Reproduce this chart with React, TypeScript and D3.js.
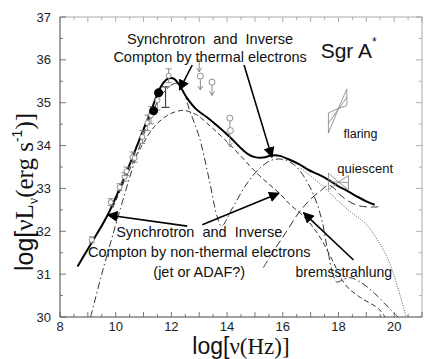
import React from 'react';
import * as d3 from 'd3';

// total model (solid)
const totalCurve: [number, number][] = [
  [8.63, 31.18], [9.2, 31.8], [9.71, 32.38], [10.32, 33.27], [10.8, 34.05], [11.32, 34.9],
  [11.6, 35.35], [11.85, 35.55], [12.05, 35.57], [12.25, 35.45], [12.55, 35.12], [12.89, 34.85],
  [13.3, 34.65], [13.71, 34.43], [14.1, 34.2], [14.45, 33.97], [14.75, 33.8], [15.0, 33.73],
  [15.3, 33.72], [15.6, 33.77], [15.9, 33.76], [16.21, 33.68], [16.6, 33.56], [16.93, 33.43],
  [17.3, 33.32], [17.64, 33.2], [18.0, 33.05], [18.3, 32.95], [18.7, 32.8], [19.0, 32.7], [19.3, 32.62],
];

// non-thermal electrons (dashed)
const nonThermalCurve: [number, number][] = [
  [9.9, 32.55], [10.4, 33.3], [10.9, 33.95], [11.4, 34.45], [11.9, 34.72], [12.4, 34.82],
  [12.9, 34.72], [13.4, 34.45], [13.9, 34.15], [14.5, 33.75], [15.0, 33.4], [15.5, 33.1],
  [15.86, 32.9], [16.3, 32.6], [16.75, 32.35], [17.3, 31.9], [17.8, 31.3], [18.25, 30.75],
  [18.8, 30.45], [19.43, 30.2], [19.68, 30.0],
];

// thermal electrons (dash-dot)
const thermalCurve: [number, number][] = [
  [9.1, 30.0], [9.5, 31.0], [10.0, 32.15], [10.5, 33.25], [11.0, 34.25], [11.4, 34.9],
  [11.8, 35.3], [12.15, 35.45], [12.4, 35.3], [12.64, 34.85], [13.0, 34.2], [13.36, 33.2],
  [13.64, 32.35], [13.8, 32.12], [14.2, 32.55], [14.7, 33.1], [15.14, 33.45], [15.6, 33.66],
  [16.0, 33.68], [16.3, 33.6], [16.57, 33.45], [17.04, 32.95], [17.39, 32.3], [17.6, 31.6],
  [17.93, 30.82], [18.15, 30.87], [18.4, 30.92], [18.82, 30.8], [19.3, 30.55], [19.79, 30.23], [20.14, 30.0],
];

// bremsstrahlung (long dash)
const bremsCurve: [number, number][] = [
  [15.3, 31.15], [15.7, 31.57], [16.1, 31.96], [16.57, 32.43], [17.0, 32.75], [17.39, 32.96],
  [17.64, 33.08], [17.85, 33.0], [18.11, 32.82], [18.61, 32.62], [19.0, 32.57], [19.43, 32.57],
];

// dotted component
const dottedCurve: [number, number][] = [
  [16.6, 33.5], [17.04, 33.27], [17.5, 33.02], [18.0, 32.7], [18.5, 32.42], [18.96, 32.19],
  [19.4, 31.8], [19.79, 31.33], [20.1, 30.75], [20.43, 30.0],
];

// observations: [logNu, logL, err]
const obsPoints: [number, number, number][] = [
  [9.14, 31.8, 0.07], [9.82, 32.68, 0.08], [10.14, 33.03, 0.08], [10.32, 33.27, 0.1],
  [10.39, 33.4, 0.1], [10.6, 33.73, 0.12], [10.68, 33.71, 0.1], [10.96, 34.2, 0.15],
  [11.14, 34.53, 0.18], [11.27, 34.71, 0.2], [11.5, 35.06, 0.23], [11.9, 35.63, 0.16],
];
const thickBars: [number, number, number][] = [[11.79, 35.13, 0.24]];
const filledPoints: [number, number][] = [[11.36, 34.81], [11.54, 35.23]];
// upper limits: [logNu, logL, arrow end, circle?]
const upperLimits: [number, number, number, boolean][] = [
  [13.0, 36.0, 35.72, false], [13.04, 35.62, 35.3, true], [13.46, 35.48, 35.17, true],
  [14.1, 34.64, 33.97, true],
];
const extraCircles: [number, number][] = [[14.12, 34.35]];

// bowties: pivot, left x, left ys, right x, right ys
const flaring = { p: [18.0, 34.87], lx: 17.64, ly: [34.76, 34.29], rx: 18.3, ry: [34.93, 35.32] };
const quiescent = { p: [18.0, 33.15], lx: 17.64, ly: [33.36, 32.96], rx: 18.36, ry: [32.97, 33.3] };

// arrows: from -> tip (data units)
const arrows: [number, number, number, number][] = [
  [12.75, 35.88, 12.29, 35.3],
  [14.61, 35.88, 15.61, 33.73],
  [12.57, 32.12, 9.71, 32.38],
  [13.11, 32.15, 15.86, 32.89],
  [18.54, 31.33, 16.75, 32.43],
];

const xMajor = [8, 10, 12, 14, 16, 18, 20];
const yMajor = [30, 31, 32, 33, 34, 35, 36, 37];

const W = 436;
const H = 359;

export default function App() {
  const x = d3.scaleLinear().domain([8, 21]).range([60, 422]);
  const y = d3.scaleLinear().domain([30, 37]).range([317, 17]);
  const line = d3.line<[number, number]>().x(d => x(d[0])).y(d => y(d[1])).curve(d3.curveCatmullRom.alpha(0.5));

  const xMinor = d3.range(8, 21.01, 0.5);
  const yMinor = d3.range(30, 37.01, 0.5);
  const sans = 'Arial, "Liberation Sans", sans-serif';
  const serif = '"Times New Roman", "Liberation Serif", serif';
  const gray = '#808080';

  const bowtie = (b: typeof flaring, key: string) => {
    const [px, py] = b.p;
    const pts = [
      [[b.lx, b.ly[0]], [b.lx, b.ly[1]], [px, py]],
      [[b.rx, b.ry[0]], [b.rx, b.ry[1]], [px, py]],
    ];
    return (
      <g key={key} fill="none" stroke={gray} strokeWidth={0.8}>
        {pts.map((tri, i) => (
          <polygon key={i} points={tri.map(p => `${x(p[0])},${y(p[1])}`).join(' ')} />
        ))}
        <line x1={x(b.lx)} y1={y((b.ly[0] + b.ly[1]) / 2)} x2={x(b.rx)} y2={y((b.ry[0] + b.ry[1]) / 2)} />
      </g>
    );
  };

  return (
    <svg width={W} height={H} style={{ position: 'absolute', left: 0, top: 0, background: '#fff' }}>
      <defs>
        <clipPath id="plot">
          <rect x={60} y={17} width={362} height={300} />
        </clipPath>
        <marker id="head" viewBox="0 0 10 10" refX={9} refY={5} markerWidth={11} markerHeight={11}
          markerUnits="userSpaceOnUse" orient="auto">
          <path d="M0,0 L10,5 L0,10 z" fill="#000" />
        </marker>
      </defs>

      {/* frame */}
      <line x1={60} y1={17} x2={422} y2={17} stroke="#aaa" />
      <line x1={422} y1={17} x2={422} y2={317} stroke="#aaa" />
      <line x1={60} y1={17} x2={60} y2={317} stroke="#444" />
      <line x1={60} y1={317} x2={422} y2={317} stroke="#444" />

      {/* ticks */}
      {xMinor.map(v => (
        <g key={'xt' + v} stroke="#555" strokeWidth={0.8}>
          <line x1={x(v)} x2={x(v)} y1={317} y2={317 - (v % 1 === 0 ? 5 : 3)} />
          <line x1={x(v)} x2={x(v)} y1={17} y2={17 + (v % 1 === 0 ? 5 : 3)} stroke="#999" />
        </g>
      ))}
      {yMinor.map(v => (
        <g key={'yt' + v} stroke="#555" strokeWidth={0.8}>
          <line x1={60} x2={60 + (v % 1 === 0 ? 6 : 3)} y1={y(v)} y2={y(v)} />
          <line x1={422} x2={422 - (v % 1 === 0 ? 6 : 3)} y1={y(v)} y2={y(v)} stroke="#999" />
        </g>
      ))}
      {xMajor.map(v => (
        <text key={'xl' + v} x={x(v)} y={331} textAnchor="middle" fontFamily={sans} fontSize={13} fill="#222">{v}</text>
      ))}
      {yMajor.map(v => (
        <text key={'yl' + v} x={51} y={y(v) + 4.5} textAnchor="end" fontFamily={sans} fontSize={13} fill="#222">{v}</text>
      ))}

      {/* axis labels */}
      <text x={241} y={354} textAnchor="middle" fontSize={23} fill="#111">
        <tspan fontFamily={sans}>log[</tspan>
        <tspan fontFamily={serif}>ν(Hz)]</tspan>
      </text>
      <text transform="translate(33,192) rotate(-90)" textAnchor="middle" fontSize={25} fill="#111">
        <tspan fontFamily={sans}>log[</tspan>
        <tspan fontFamily={serif}>νL</tspan>
        <tspan fontFamily={serif} fontSize={14} dy={5}>ν</tspan>
        <tspan fontFamily={serif} dy={-5}>(erg s</tspan>
        <tspan fontFamily={sans} fontSize={14} dy={-11}>-1</tspan>
        <tspan fontFamily={serif} dy={11}>)]</tspan>
      </text>

      {/* model curves */}
      <g clipPath="url(#plot)" fill="none">
        <path d={line(thermalCurve) ?? ''} stroke="#333" strokeWidth={1} strokeDasharray="7,3,1.5,3" />
        <path d={line(nonThermalCurve) ?? ''} stroke="#333" strokeWidth={1} strokeDasharray="5,3" />
        <path d={line(bremsCurve) ?? ''} stroke="#333" strokeWidth={1} strokeDasharray="8,4" />
        <path d={line(dottedCurve) ?? ''} stroke="#444" strokeWidth={0.9} strokeDasharray="1,1.5" />
        <path d={line(totalCurve) ?? ''} stroke="#000" strokeWidth={2} />
      </g>

      {/* data */}
      <g stroke={gray} fill="none" strokeWidth={0.9}>
        {obsPoints.map(([a, b, e], i) => (
          <g key={'o' + i}>
            <line x1={x(a)} x2={x(a)} y1={y(b + e)} y2={y(b - e)} />
            <line x1={x(a) - 3} x2={x(a) + 3} y1={y(b + e)} y2={y(b + e)} />
            <line x1={x(a) - 3} x2={x(a) + 3} y1={y(b - e)} y2={y(b - e)} />
            <circle cx={x(a)} cy={y(b)} r={2.5} fill="#fff" />
          </g>
        ))}
        {thickBars.map(([a, b, e], i) => (
          <g key={'t' + i} stroke="#444" strokeWidth={1.2}>
            <line x1={x(a)} x2={x(a)} y1={y(b + e)} y2={y(b - e)} />
            <line x1={x(a) - 4} x2={x(a) + 4} y1={y(b + e)} y2={y(b + e)} />
            <line x1={x(a) - 4} x2={x(a) + 4} y1={y(b - e)} y2={y(b - e)} />
          </g>
        ))}
        {upperLimits.map(([a, b, e, c], i) => (
          <g key={'u' + i}>
            <line x1={x(a)} x2={x(a)} y1={y(b)} y2={y(e)} />
            <path d={`M${x(a) - 2.5},${y(e) - 4} L${x(a)},${y(e)} L${x(a) + 2.5},${y(e) - 4}`} />
            {c ? <circle cx={x(a)} cy={y(b)} r={3} fill="#fff" /> : <line x1={x(a) - 3} x2={x(a) + 3} y1={y(b)} y2={y(b)} />}
          </g>
        ))}
        {extraCircles.map(([a, b], i) => (
          <circle key={'e' + i} cx={x(a)} cy={y(b)} r={3} fill="#fff" />
        ))}
        {filledPoints.map(([a, b], i) => (
          <circle key={'f' + i} cx={x(a)} cy={y(b)} r={4.5} fill="#000" stroke="none" />
        ))}
        {bowtie(flaring, 'fl')}
        {bowtie(quiescent, 'qu')}
      </g>

      {/* arrows */}
      {arrows.map(([a, b, c, d], i) => (
        <line key={'a' + i} x1={x(a)} y1={y(b)} x2={x(c)} y2={y(d)} stroke="#000" strokeWidth={1.6} markerEnd="url(#head)" />
      ))}

      {/* annotations */}
      <g fontFamily={sans} fill="#111">
        <text x={x(13.39)} y={y(36.37)} textAnchor="middle" fontSize={14.5} xmlSpace="preserve">Synchrotron  and  Inverse</text>
        <text x={x(13.39)} y={y(35.95)} textAnchor="middle" fontSize={14.5}>Compton by thermal electrons</text>
        <text x={x(17.36)} y={y(36.04)} fontSize={21}>Sgr A<tspan fontSize={12} dy={-12}>*</tspan></text>
        <text x={x(18.18)} y={y(34.18)} fontSize={12.5}>flaring</text>
        <text x={x(17.96)} y={y(33.36)} fontSize={13}>quiescent</text>
        <text x={x(13.0)} y={y(31.87)} textAnchor="middle" fontSize={14.5} xmlSpace="preserve">Synchrotron  and  Inverse</text>
        <text x={x(13.0)} y={y(31.4)} textAnchor="middle" fontSize={14.5}>Compton by non-thermal electrons</text>
        <text x={x(13.0)} y={y(30.93)} textAnchor="middle" fontSize={14.5}>(jet or ADAF?)</text>
        <text x={x(16.46)} y={y(30.93)} fontSize={14}>bremsstrahlung</text>
      </g>
    </svg>
  );
}
